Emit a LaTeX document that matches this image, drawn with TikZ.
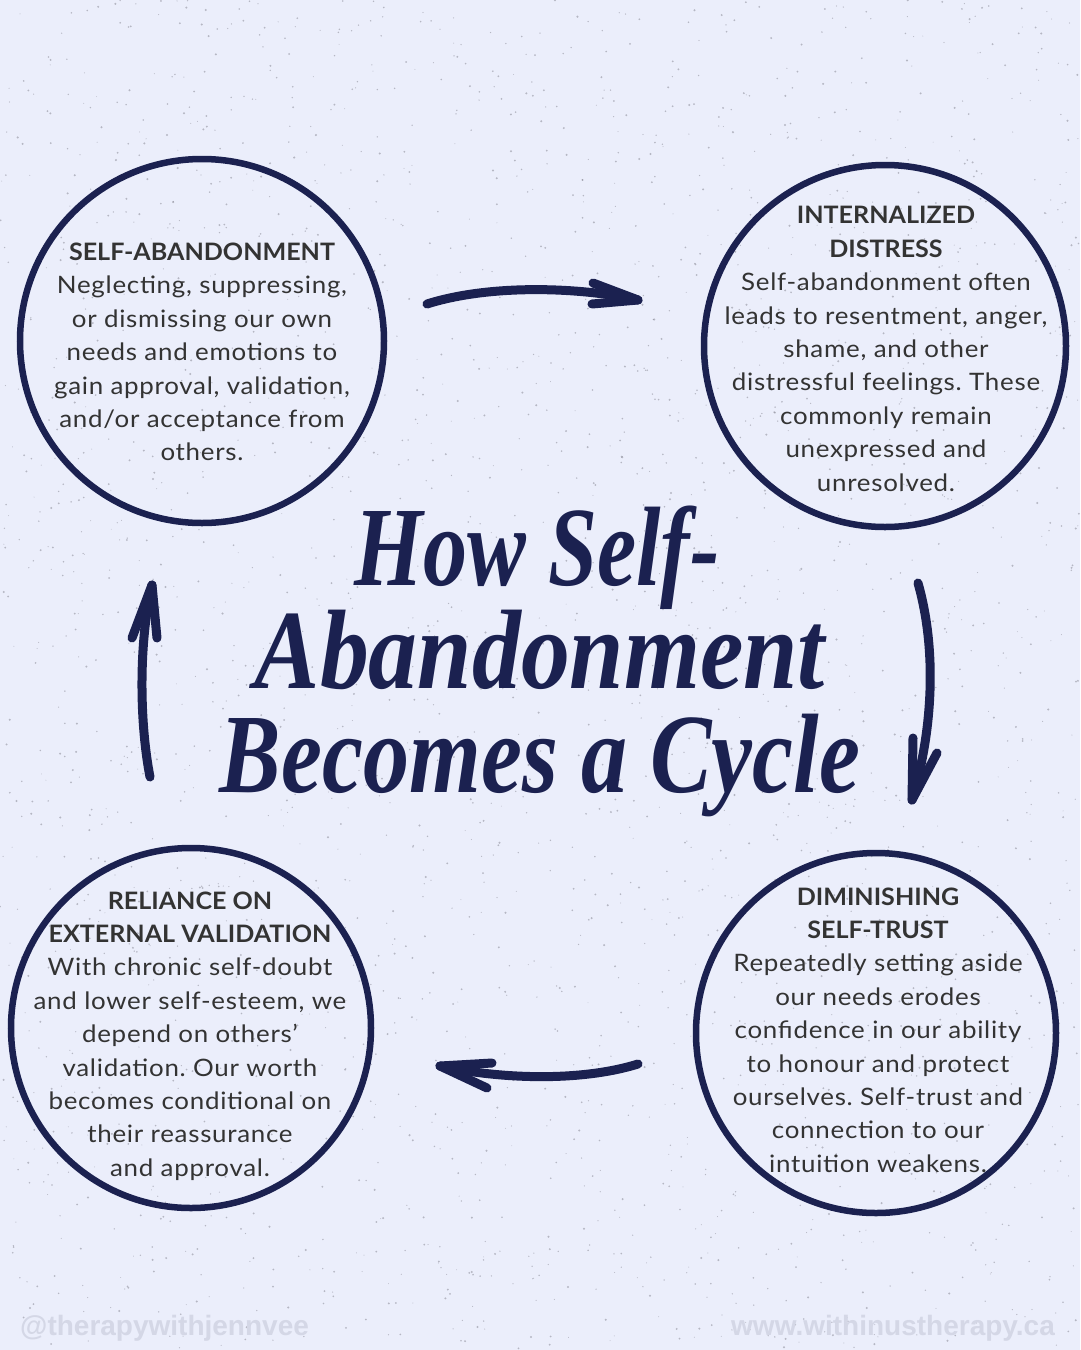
\documentclass[tikz,border=0pt]{standalone}
\usepackage{fontspec}
\setmainfont{Lato}[FakeStretch=1.08, LetterSpace=3]
\newfontfamily\headfont{Lato}[FakeStretch=1.045]
\newfontfamily\titlefont{Liberation Serif}
\newfontfamily\footfont{Liberation Sans}
\definecolor{bgc}{HTML}{EBEEFB}
\definecolor{navy}{HTML}{1B2150}
\definecolor{ink}{HTML}{333333}
\definecolor{footc}{HTML}{D4D7E6}
\definecolor{speck}{HTML}{8A8A96}
\newcommand{\hd}[1]{{\headfont\bfseries #1}}
\frenchspacing
\tikzset{
  ring/.style={circle, draw=navy, line width=6.5pt, inner sep=0pt, minimum size=#1},
  body/.style={text=ink, align=center, inner sep=0pt, font=\fontsize{24}{33.4}\selectfont\frenchspacing},
  hand/.style={draw=navy, line width=9pt, line cap=round, line join=round},
  titleline/.style={text=navy, inner sep=0pt, anchor=base, font=\titlefont\bfseries\itshape\fontsize{113}{113}\selectfont},
  foot/.style={text=footc, inner sep=0pt, anchor=base west, font=\footfont\bfseries\fontsize{28}{28}\selectfont}
}
\begin{document}
\begin{tikzpicture}[x=1pt,y=-1pt]
\useasboundingbox (0,0) rectangle (1080,1350);
\fill[bgc] (0,0) rectangle (1080,1350);
\pgfmathsetseed{4242}
\foreach \i in {1,...,2600}{
  \pgfmathsetmacro{\px}{rnd*1080}
  \pgfmathsetmacro{\py}{rnd*1350}
  \pgfmathsetmacro{\pr}{0.45+rnd*0.7}
  \fill[speck, opacity=0.55] (\px,\py) circle (\pr);
}

% circles
\node[ring=364pt] (c1) at (202,341) {};
\node[ring=362pt] (c2) at (885,346) {};
\node[ring=360pt] (c3) at (876,1033) {};
\node[ring=360pt] (c4) at (191,1028) {};

% texts
\node[body] (t1) at (202,352) {\hd{SELF-ABANDONMENT}\\Neglecting, suppressing,\\or dismissing our own\\needs and emotions to\\gain approval, validation,\\and/or acceptance from\\others.};
\node[body] (t2) at (886,349) {\hd{INTERNALIZED}\\\hd{DISTRESS}\\Self-abandonment often\\leads to resentment, anger,\\shame, and other\\distressful feelings. These\\commonly remain\\unexpressed and\\unresolved.};
\node[body] (t3) at (878,1030) {\hd{DIMINISHING}\\\hd{SELF-TRUST}\\Repeatedly setting aside\\our needs erodes\\confidence in our ability\\to honour and protect\\ourselves. Self-trust and\\connection to our\\intuition weakens.};
\node[body] (t4) at (190,1036) {\hd{RELIANCE ON}\\\hd{EXTERNAL VALIDATION}\\With chronic self-doubt\\and lower self-esteem, we\\depend on others’\\validation. Our worth\\becomes conditional on\\their reassurance\\and approval.};

% title
\node[titleline] (h1) at (537,585) {\resizebox{365pt}{\height}{How Self-}};
\node[titleline] (h2) at (540,688) {\resizebox{570pt}{\height}{Abandonment}};
\node[titleline] (h3) at (540,792) {\resizebox{640pt}{\height}{Becomes a Cycle}};

% arrow coordinates
\coordinate (a1s) at (427,304);
\coordinate (a1e) at (638,300);
\coordinate (a1u) at (593,283);
\coordinate (a1d) at (592,304);
\coordinate (a2s) at (918,583);
\coordinate (a2e) at (912,800);
\coordinate (a2u) at (913,738);
\coordinate (a2d) at (937,753);
\coordinate (a3s) at (638,1064);
\coordinate (a3e) at (440,1066);
\coordinate (a3u) at (492,1063);
\coordinate (a3d) at (487,1088);
\coordinate (a4s) at (150,777);
\coordinate (a4e) at (152,585);
\coordinate (a4u) at (132,638);
\coordinate (a4d) at (157,638);

\draw[hand] (a1s) .. controls (490,284) and (580,287) .. (a1e);
\draw[hand] (a1u) -- (a1e) -- (a1d);
\draw[hand] (a2s) .. controls (937,650) and (933,730) .. (a2e);
\draw[hand] (a2u) -- (a2e) -- (a2d);
\draw[hand] (a3s) .. controls (580,1082) and (500,1079) .. (a3e);
\draw[hand] (a3u) -- (a3e) -- (a3d);
\draw[hand] (a4s) .. controls (139,720) and (139,640) .. (a4e);
\draw[hand] (a4u) -- (a4e) -- (a4d);

% footer
\node[foot] (f1) at (20,1335) {@therapywithjennvee};
\node[foot, anchor=base east] (f2) at (1055,1335) {www.withinustherapy.ca};
\end{tikzpicture}
\end{document}
